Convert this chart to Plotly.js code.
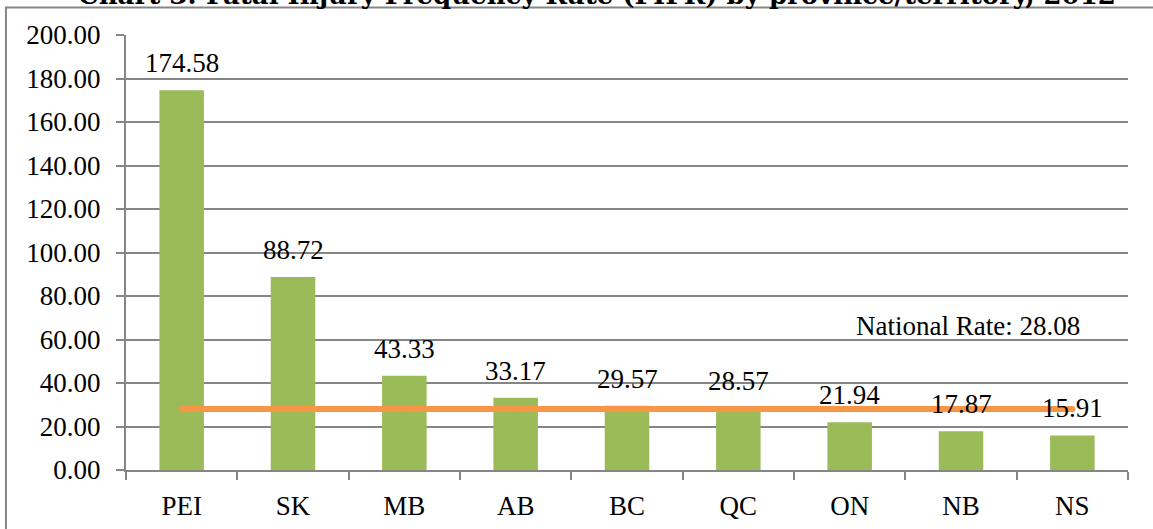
<!DOCTYPE html>
<html>
<head>
<meta charset="utf-8">
<script src="https://cdn.plot.ly/plotly-3.0.1.min.js"></script>
<style>
  html, body { margin: 0; padding: 0; background: #ffffff; }
  #chart { width: 1153px; height: 529px; }
</style>
</head>
<body>
<div id="chart"></div>
<script>
// ---- data ----
const categories = ["PEI", "SK", "MB", "AB", "BC", "QC", "ON", "NB", "NS"];
const rates = [174.58, 88.72, 43.33, 33.17, 29.57, 28.57, 21.94, 17.87, 15.91];
const nationalRate = 28.08;
const yTickVals = [0, 20, 40, 60, 80, 100, 120, 140, 160, 180, 200];
const yTickText = ["0.00", "20.00", "40.00", "60.00", "80.00", "100.00", "120.00", "140.00", "160.00", "180.00", "200.00"];
const titleText = "Chart 3: Fatal Injury Frequency Rate (FIFR) by province/territory, 2012";
const nationalLabel = "National Rate: " + nationalRate.toFixed(2);

const FONT = "'Liberation Serif', 'Times New Roman', serif";
const TITLE_FONT = "'DejaVu Serif', 'Liberation Serif', serif";
const GRID = "#868686";

const bars = {
  type: "bar",
  x: categories,
  y: rates,
  marker: { color: "#9BBB59", line: { width: 0 } },
  hoverinfo: "x+y",
  showlegend: false
};

const natLine = {
  type: "scatter",
  mode: "lines+markers",
  x: categories,
  y: categories.map(() => nationalRate),
  line: { color: "#F79646", width: 6 },
  marker: { color: "#F79646", size: 6, line: { width: 0 } },
  showlegend: false
};

const valueLabels = categories.map((c, i) => ({
  x: c, y: rates[i], xref: "x", yref: "y",
  text: rates[i].toFixed(2),
  showarrow: false,
  yanchor: "bottom",
  yshift: 10,
  font: { family: FONT, size: 27, color: "#000000" }
}));

const annotations = valueLabels.concat([
  {
    x: 0.840, y: 66.1, xref: "paper", yref: "y",
    text: nationalLabel, showarrow: false,
    xanchor: "center", yanchor: "middle",
    font: { family: FONT, size: 27, color: "#000000" }
  },
  {
    x: 0.47, y: 1.054, xref: "paper", yref: "paper",
    text: "<b>" + titleText + "</b>", showarrow: false,
    xanchor: "center", yanchor: "bottom",
    font: { family: TITLE_FONT, size: 26, color: "#000000" }
  }
]);

const layout = {
  width: 1153,
  height: 529,
  margin: { l: 126, r: 25, t: 35, b: 59, pad: 0 },
  paper_bgcolor: "#ffffff",
  plot_bgcolor: "#ffffff",
  bargap: 0.6,
  font: { family: FONT, size: 27, color: "#000000" },
  xaxis: {
    type: "category",
    showgrid: false,
    showline: true,
    linecolor: GRID,
    linewidth: 2,
    ticks: "outside",
    tickson: "boundaries",
    ticklen: 8,
    tickwidth: 2,
    tickcolor: GRID,
    tickfont: { family: FONT, size: 27, color: "#000000" },
    ticklabelstandoff: 11,
    zeroline: false,
    fixedrange: true
  },
  yaxis: {
    range: [0, 200],
    tickvals: yTickVals,
    ticktext: yTickText,
    showgrid: true,
    gridcolor: GRID,
    gridwidth: 2,
    showline: true,
    linecolor: GRID,
    linewidth: 2,
    ticks: "outside",
    ticklen: 8,
    tickwidth: 2,
    tickcolor: GRID,
    tickfont: { family: FONT, size: 27, color: "#000000" },
    ticklabelstandoff: 10,
    zeroline: false,
    fixedrange: true
  },
  shapes: [
    {
      type: "rect", xref: "paper", yref: "paper",
      x0: -0.1198, x1: 1.2, y0: -0.3, y1: 1.063,
      line: { color: GRID, width: 2 },
      fillcolor: "rgba(0,0,0,0)",
      layer: "below"
    }
  ],
  annotations: annotations
};

Plotly.newPlot("chart", [bars, natLine], layout, { displayModeBar: false, staticPlot: true });
</script>
</body>
</html>
